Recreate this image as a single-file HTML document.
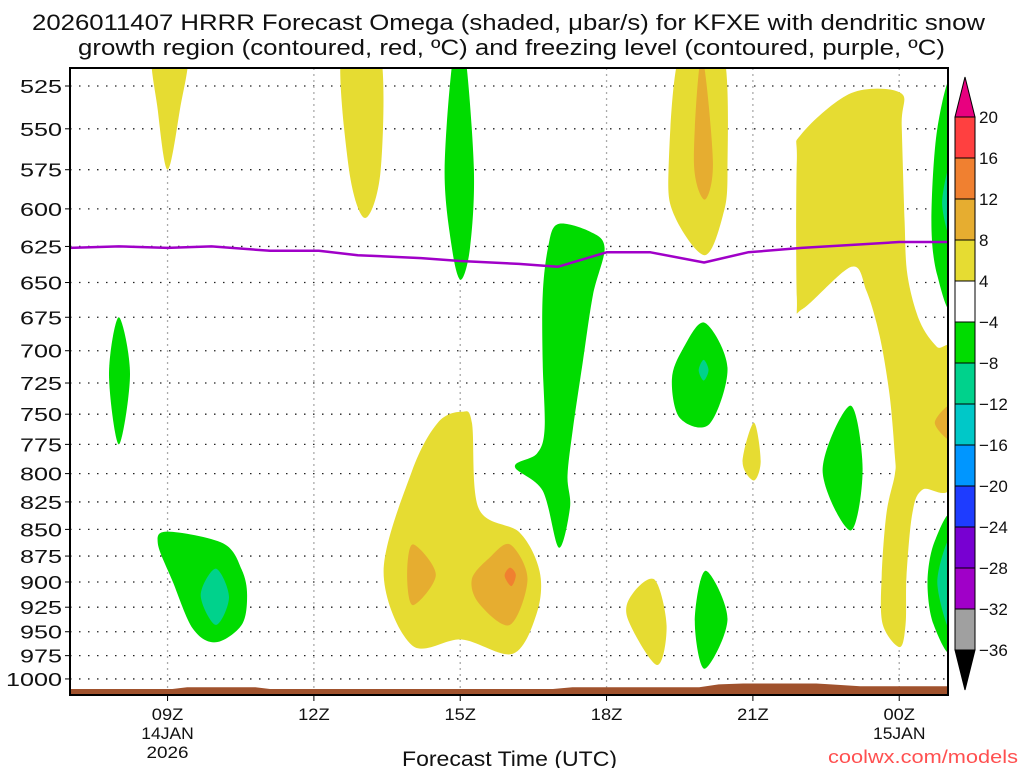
<!DOCTYPE html>
<html><head><meta charset="utf-8">
<style>
body{margin:0;background:#fff;}
svg{display:block;font-family:"Liberation Sans",sans-serif;}
</style></head>
<body>
<svg id="chart" width="1024" height="768" viewBox="0 0 1024 768" xmlns="http://www.w3.org/2000/svg">
<rect width="1024" height="768" fill="#fff"/>
<text x="32" y="30" textLength="953" lengthAdjust="spacingAndGlyphs" font-size="22" fill="#111">2026011407 HRRR Forecast Omega (shaded, μbar/s) for KFXE with dendritic snow</text>
<text x="78" y="55" textLength="867" lengthAdjust="spacingAndGlyphs" font-size="22" fill="#111">growth region (contoured, red, ºC) and freezing level (contoured, purple, ºC)</text>
<defs><clipPath id="plotclip"><rect x="70" y="68" width="878" height="627"/></clipPath></defs>
<g id="grid"></g>
<g id="fills" clip-path="url(#plotclip)"></g>
<g id="lines" clip-path="url(#plotclip)"></g>
<rect x="70" y="68" width="878" height="627" fill="none" stroke="#000" stroke-width="2"/>
<g id="axes"></g>
<g id="cbar"></g>
<text x="402" y="766" textLength="215" lengthAdjust="spacingAndGlyphs" font-size="21" fill="#111">Forecast Time (UTC)</text>
<text x="828" y="763" textLength="190" lengthAdjust="spacingAndGlyphs" font-size="18" fill="#ff5050">coolwx.com/models</text>
</svg>
<script>
const pressureTicks=[525,550,575,600,625,650,675,700,725,750,775,800,825,850,875,900,925,950,975,1000];
const hourTicks=[9,12,15,18,21,24];
const hourLabels=[["09Z","14JAN","2026"],["12Z"],["15Z"],["18Z"],["21Z"],["00Z","15JAN"]];
const cbarLevels=["20","16","12","8","4","−4","−8","−12","−16","−20","−24","−28","−32","−36"];
const cbarColors=["#ff4040","#f08030","#e6ad30","#e6dc32","#ffffff","#00dc00","#00d28c","#00c8c8","#0096ff","#1e3cff","#7800d2","#a000c8","#a0a0a0"];
const freezingLevel=[[7,626],[8,625],[9,626],[9.9,625],[11.1,628],[12.1,628],[12.9,631],[14.2,633],[15,635],[16.2,637],[17,639],[18,629],[18.9,629],[20,636],[20.9,629],[22,626],[23,624],[24,622],[25,622]];
const terrain=[[7,1011],[9.1,1011],[9.4,1009],[10.8,1009],[11.1,1011],[16.9,1011],[17.3,1009],[19.9,1009],[20.3,1006],[20.8,1005],[22.3,1005],[22.6,1006],[23.2,1008],[25,1008]];
const yellowAreas=[
[[8.70,505],[9.40,505],[9.25,539],[9.0,575],[8.80,539]],
[[12.57,505],[13.35,505],[13.37,575],[13.05,606],[12.72,575]],
[[19.52,505],[20.38,505],[20.48,576],[20.38,605],[20.01,631],[19.40,605],[19.27,576]],
[[15.03,748],[15.24,757],[15.38,831],[16.22,853],[16.63,890],[16.57,931],[16.08,973],[15.03,958],[14.01,964],[13.43,890],[14.01,798],[14.54,757]],
[[18.99,898],[19.23,944],[19.03,985],[18.43,936],[18.54,911]],
[[21.02,757],[21.16,789],[21.02,806],[20.79,790]],
[[23.02,529],[24.03,529],[24.05,548],[24.11,608],[24.17,645],[24.42,678],[24.77,697],[25.1,704],[25.1,808],[24.48,814],[24.27,835],[24.15,894],[24.13,942],[24.01,966],[23.66,942],[23.64,894],[23.74,835],[23.91,801],[23.91,784],[23.80,734],[23.60,689],[23.33,656],[23.02,639],[22.02,669],[21.90,660],[21.90,570],[22.0,553]]
];
const orangeAreas=[
[[19.95,508],[20.18,570],[20.01,594],[19.79,570]],
[[14.03,864],[14.50,893],[14.03,923],[13.91,893]],
[[15.59,877],[16.02,864],[16.38,897],[16.02,943],[15.38,921],[15.24,897]],
[[25.1,742],[24.73,757],[25.1,772]]
];
const redAreas=[[[16.02,886],[16.14,893],[16.05,904],[15.91,894]]];
const greenAreas=[
[[8.0,675],[8.23,718],[8.0,775],[7.80,718]],
[[9.01,852],[10.14,863],[10.52,888],[10.63,913],[10.52,943],[9.99,961],[9.52,947],[9.11,900],[8.80,863]],
[[14.87,505],[15.09,505],[15.28,575],[15.20,626],[15.01,648],[14.83,626],[14.68,575]],
[[17.0,610],[17.66,615],[17.96,626],[17.72,659],[17.51,709],[17.31,762],[17.20,802],[17.25,830],[17.02,867],[16.69,815],[16.12,794],[16.57,783],[16.73,762],[16.69,709],[16.69,659],[16.80,626]],
[[20.01,679],[20.48,713],[20.11,758],[19.50,753],[19.34,722],[19.56,699]],
[[20.03,889],[20.48,937],[20.01,989],[19.81,939]],
[[23.0,743],[23.25,797],[23.0,851],[22.43,797]],
[[25.1,525],[24.78,550],[24.66,608],[24.78,645],[25.1,662]],
[[25.1,840],[24.72,862],[24.58,900],[24.70,942],[25.1,968]]
];
const tealAreas=[
[[9.99,887],[10.26,915],[9.99,943],[9.68,913]],
[[19.99,707],[20.09,715],[19.99,723],[19.89,715]],
[[25.1,568],[24.88,596],[25.1,622]],
[[25.1,856],[24.78,900],[25.1,952]]
];
const NS="http://www.w3.org/2000/svg";
const X0=70,X1=948,Y0=68,Y1=695;
function xs(h){return X0+(h-7)/18*(X1-X0);}
function ys(p){return 86+920.2*Math.log(p/525);}
function mk(tag,attrs,parent){const e=document.createElementNS(NS,tag);for(const k in attrs)e.setAttribute(k,attrs[k]);parent.appendChild(e);return e;}
function smoothClosed(pts){
  const P=pts.map(d=>[xs(d[0]),ys(d[1])]);const n=P.length;let s="M"+P[0][0].toFixed(1)+","+P[0][1].toFixed(1);
  const t=0.16;
  for(let i=0;i<n;i++){const p0=P[(i-1+n)%n],p1=P[i],p2=P[(i+1)%n],p3=P[(i+2)%n];
    const c1=[p1[0]+(p2[0]-p0[0])*t,p1[1]+(p2[1]-p0[1])*t],c2=[p2[0]-(p3[0]-p1[0])*t,p2[1]-(p3[1]-p1[1])*t];
    s+="C"+c1[0].toFixed(1)+","+c1[1].toFixed(1)+" "+c2[0].toFixed(1)+","+c2[1].toFixed(1)+" "+p2[0].toFixed(1)+","+p2[1].toFixed(1);}
  return s+"Z";}
const grid=document.getElementById('grid'),fills=document.getElementById('fills'),lines=document.getElementById('lines'),axes=document.getElementById('axes'),cbar=document.getElementById('cbar');
pressureTicks.forEach(p=>{const y=ys(p);
  const l=mk('line',{x1:X0,x2:X1,y1:y,y2:y,stroke:'#222','stroke-width':1.3,'stroke-dasharray':'1.5 7.5'},grid);
  
  
  const tk=mk('line',{x1:X0-5,x2:X0,y1:y,y2:y,stroke:'#000','stroke-width':1},axes);
  
  
  const s=String(p);const w=s.length*14;
  const t=mk('text',{x:62-w,y:y+7,textLength:w,lengthAdjust:'spacingAndGlyphs','font-size':18,fill:'#111'},axes);t.textContent=s;
  
  
});
hourTicks.forEach((h,i)=>{const x=xs(h);
  const l=mk('line',{x1:x,x2:x,y1:Y0,y2:Y1,stroke:'#aaa','stroke-width':1.3,'stroke-dasharray':'2 4'},grid);
  
  
  const tk=mk('line',{x1:x,x2:x,y1:Y1,y2:Y1+6,stroke:'#000','stroke-width':1},axes);
  
  
  hourLabels[i].forEach((s,j)=>{const w=s.length*10.5;
    const t=mk('text',{x:x-w/2,y:720+j*19,textLength:w,lengthAdjust:'spacingAndGlyphs','font-size':17,fill:'#111'},axes);t.textContent=s;
    
    });
});
function drawAreas(arr,color,name){arr.forEach(a=>{const e=mk('path',{d:smoothClosed(a),fill:color},fills);
  
  });}
drawAreas(yellowAreas,'#e6dc32','omega-4-to-8');
drawAreas(orangeAreas,'#e6ad30','omega-8-to-12');
drawAreas(redAreas,'#f08030','omega-12-to-16');
drawAreas(greenAreas,'#00dc00','omega-minus-4-to-minus-8');
drawAreas(tealAreas,'#00d28c','omega-minus-8-to-minus-12');
let td="M"+xs(terrain[0][0])+","+Y1;terrain.forEach(d=>{td+="L"+xs(d[0]).toFixed(1)+","+ys(d[1]).toFixed(1);});td+="L"+xs(terrain[terrain.length-1][0])+","+Y1+"Z";
const ter=mk('path',{d:td,fill:'#a0522d'},fills);


const fl=mk('polyline',{points:freezingLevel.map(d=>xs(d[0]).toFixed(1)+","+ys(d[1]).toFixed(1)).join(" "),fill:'none',stroke:'#a000c8','stroke-width':2.5,'stroke-linejoin':'round'},lines);


const CX=955,CW=20,CT=117,CB=650,seg=(CB-CT)/cbarColors.length;
const tt=mk('polygon',{points:`${CX},${CT} ${CX+CW},${CT} ${CX+CW/2},${CT-40}`,fill:'#e8007f',stroke:'#000','stroke-width':1},cbar);


cbarColors.forEach((c,i)=>{const r=mk('rect',{x:CX,y:CT+i*seg,width:CW,height:seg,fill:c,stroke:'#000','stroke-width':1},cbar);
  
  });
const bt=mk('polygon',{points:`${CX},${CB} ${CX+CW},${CB} ${CX+CW/2},${CB+40}`,fill:'#000',stroke:'#000','stroke-width':1},cbar);


cbarLevels.forEach((s,i)=>{const t=mk('text',{x:979,y:CT+i*seg+6,'font-size':17,fill:'#111'},cbar);t.textContent=s;
  
  });
</script>
</body></html>
